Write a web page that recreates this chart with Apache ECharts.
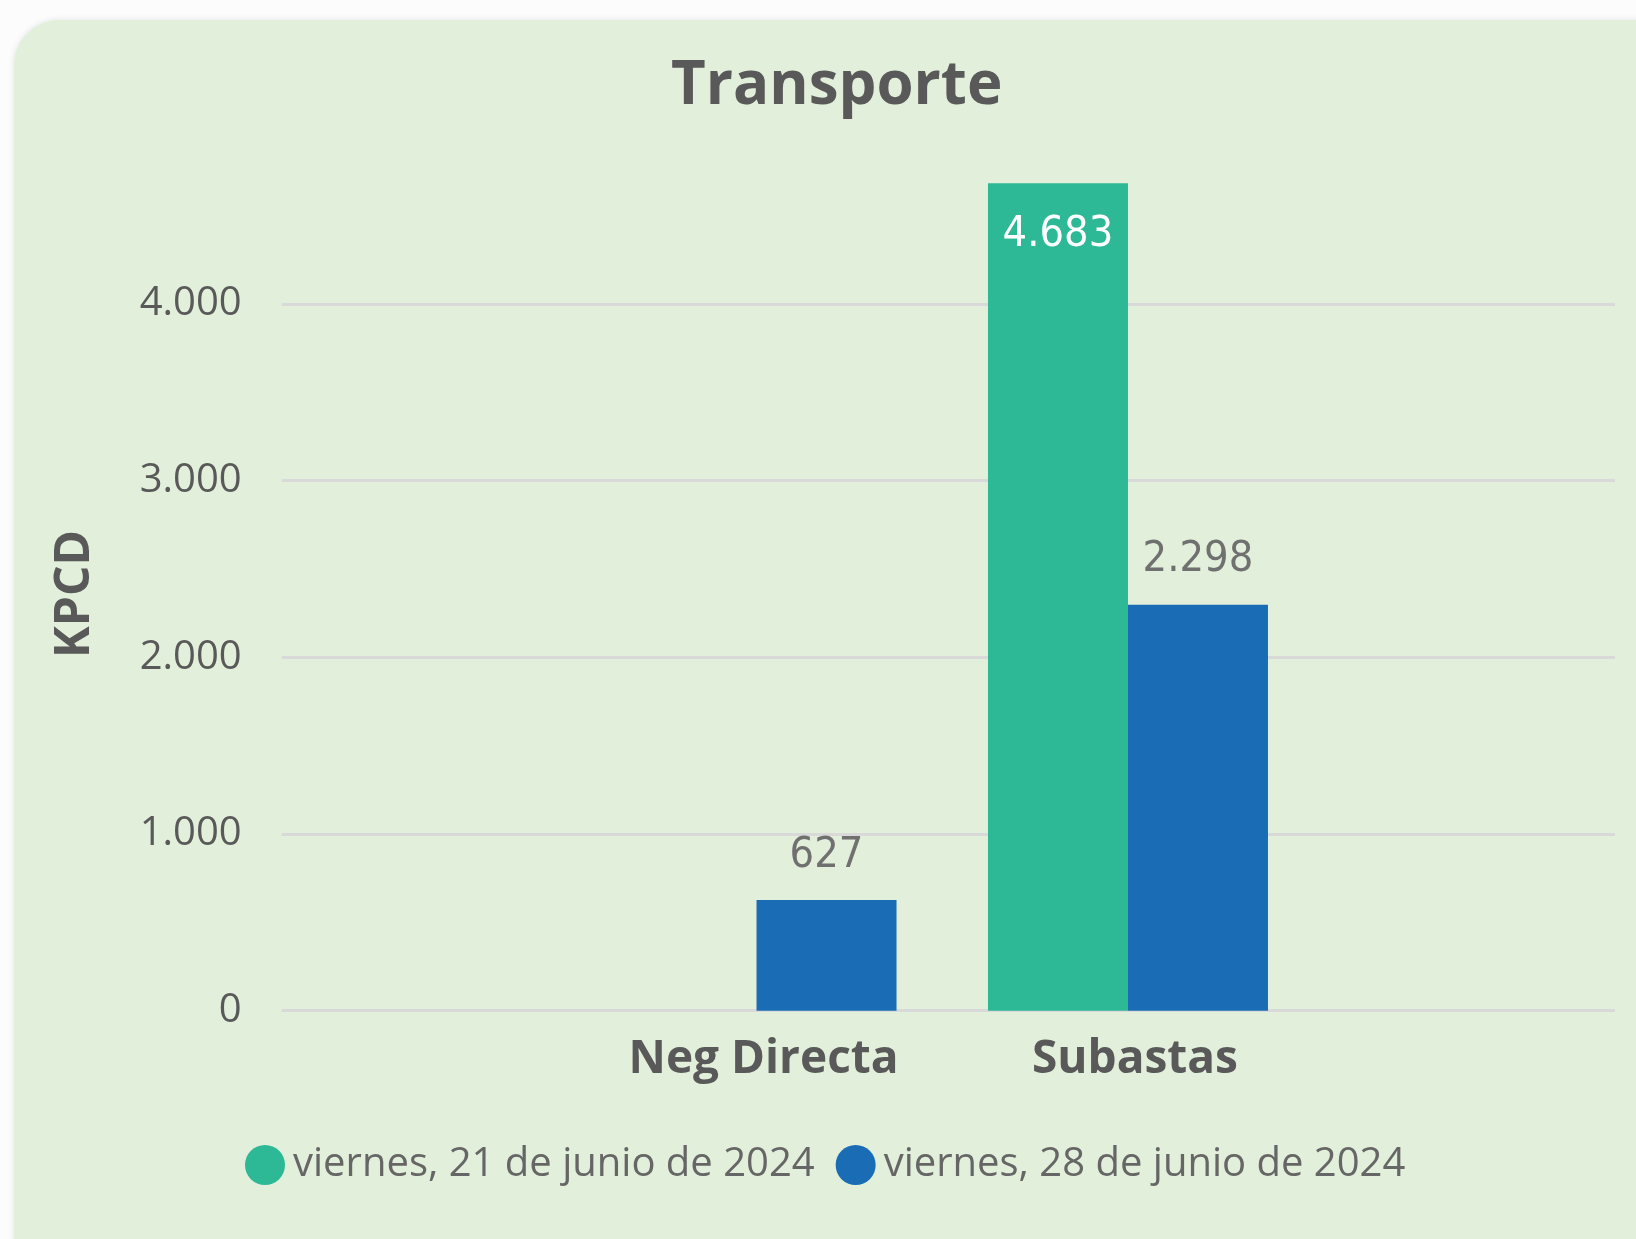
<!DOCTYPE html>
<html><head><meta charset="utf-8">
<script src="https://cdn.jsdelivr.net/npm/echarts@6/dist/echarts.min.js"></script>
<style>html,body{margin:0;padding:0;background:#fdfcfd;}#c{width:1636px;height:1239px;}</style>
</head><body><div id="c"></div>
<script>
const titleText = 'Transporte';
const yAxisName = 'KPCD';
const categories = ['Neg Directa', 'Subastas'];
const seriesNames = ['viernes, 21 de junio de 2024', 'viernes, 28 de junio de 2024'];
const values21 = [null, 4683];
const values28 = [627, 2298];
const yMin = 0, yMax = 5000, yStep = 1000;

const fmt = v => (v == null ? '' : String(Math.round(v)).replace(/\B(?=(\d{3})+(?!\d))/g, '.'));
const FONT = "'Open Sans', 'Noto Sans', sans-serif";
const NUMFONT = "'Liberation Sans Narrow', 'DejaVu Sans Condensed', Roboto, sans-serif";

const chart = echarts.init(document.getElementById('c'));
const gridTop = 127.2, gridBottom = 228.3;
chart.setOption({
  animation: false,
  graphic: [
    { type: 'rect', z: -100, shape: { x: 14, y: 20, width: 1700, height: 1300, r: 45 },
      style: { fill: '#e2efda', shadowBlur: 6, shadowColor: 'rgba(0,0,0,0.10)' } },
    { type: 'text', x: 75, y: 594, rotation: Math.PI / 2,
      style: { text: yAxisName, font: "bold 48px 'Open Sans', sans-serif", fill: '#595959',
               textAlign: 'center', textVerticalAlign: 'middle' } }
  ],
  title: {
    text: titleText, left: 671, top: 57, padding: 0,
    textStyle: { fontFamily: FONT, fontWeight: 'bold', fontSize: 60, color: '#595959' }
  },
  legend: {
    data: seriesNames, icon: 'circle', itemWidth: 40, itemHeight: 40, itemGap: 21,
    left: 245, top: 1145, padding: 0,
    textStyle: { fontFamily: FONT, fontSize: 40, color: '#666666', padding: [0, 0, 0, 3] }
  },
  grid: [
    { left: 281.7, right: 21, top: gridTop, bottom: gridBottom },
    { left: 570.8, right: 322.3, top: gridTop, bottom: gridBottom }
  ],
  xAxis: [
    { gridIndex: 0, type: 'value', min: 0, max: 1, show: false },
    { gridIndex: 1, type: 'category', data: categories,
      axisLine: { show: false }, axisTick: { show: false },
      axisLabel: { margin: 26, padding: [0, 0, 0, 14], fontFamily: FONT, fontWeight: 'bold',
                   fontSize: 46, color: '#595959' } }
  ],
  yAxis: [
    { gridIndex: 0, type: 'value', min: yMin, max: yMax, interval: yStep,
      axisLine: { show: false }, axisTick: { show: false },
      axisLabel: { formatter: fmt, margin: 40, showMaxLabel: false,
                   fontFamily: FONT, fontSize: 40, color: '#595959' },
      splitLine: { show: true, showMaxLine: false, lineStyle: { color: '#d9d9d9', width: 3 } } },
    { gridIndex: 1, type: 'value', min: yMin, max: yMax, interval: yStep, show: false,
      splitLine: { show: false } }
  ],
  series: [
    { name: seriesNames[0], type: 'bar', xAxisIndex: 1, yAxisIndex: 1, data: values21,
      barWidth: 140, barGap: '0%', itemStyle: { color: '#2db995' },
      label: { show: true, position: 'insideTop', distance: 30, formatter: p => fmt(p.value),
               fontFamily: NUMFONT, fontSize: 43, color: '#ffffff' } },
    { name: seriesNames[1], type: 'bar', xAxisIndex: 1, yAxisIndex: 1, data: values28,
      barWidth: 140, barGap: '0%', itemStyle: { color: '#1a6cb5' },
      label: { show: true, position: 'top', distance: 23, formatter: p => fmt(p.value),
               fontFamily: NUMFONT, fontSize: 43, color: '#707070' } }
  ]
});
</script></body></html>
